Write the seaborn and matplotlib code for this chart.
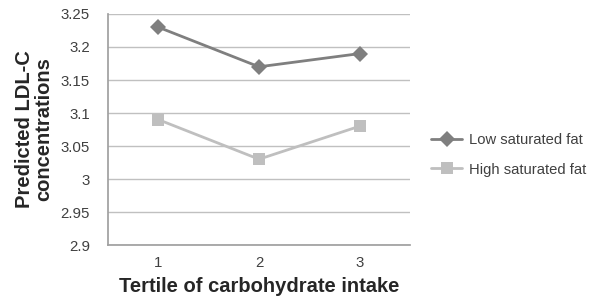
import pandas as pd
import matplotlib.pyplot as plt
import seaborn as sns

# values
tertiles = [1, 2, 3]
low_sat_fat = [3.23, 3.17, 3.19]
high_sat_fat = [3.09, 3.03, 3.08]
series_names = ["Low saturated fat", "High saturated fat"]
y_ticks = [2.9, 2.95, 3.0, 3.05, 3.1, 3.15, 3.2, 3.25]
y_tick_labels = ["2.9", "2.95", "3", "3.05", "3.1", "3.15", "3.2", "3.25"]

df = pd.DataFrame({
    "Tertile": tertiles * 2,
    "LDL": low_sat_fat + high_sat_fat,
    "Group": [series_names[0]] * 3 + [series_names[1]] * 3,
})

sns.set_theme(style="white")
plt.rcParams["font.family"] = ["Liberation Sans", "DejaVu Sans"]

fig = plt.figure(figsize=(6.01, 3.01), dpi=100)
ax = fig.add_axes([0.1797, 0.186, 0.5025, 0.7675])

palette = {series_names[0]: "#7f7f7f", series_names[1]: "#bfbfbf"}
markers = {series_names[0]: "D", series_names[1]: "s"}

sns.lineplot(
    data=df, x="Tertile", y="LDL", hue="Group", style="Group",
    palette=palette, markers=markers, dashes=False,
    linewidth=2, markersize=8, markeredgewidth=0, ax=ax,
)

ax.set_xlim(0.5, 3.5)
ax.set_ylim(2.9, 3.25)
ax.set_yticks(y_ticks)
ax.set_yticklabels(y_tick_labels)
ax.set_xticks(tertiles)
ax.set_xticklabels([str(t) for t in tertiles])
ax.yaxis.grid(True, color="#c0c0c0", linewidth=1)
ax.set_axisbelow(True)

for side in ["top", "right"]:
    ax.spines[side].set_visible(False)
ax.spines["left"].set_color("#a0a0a0")
ax.spines["bottom"].set_color("#a0a0a0")
ax.tick_params(axis="y", length=5, color="#a0a0a0", labelsize=10.8, labelcolor="#404040", pad=8)
ax.tick_params(axis="x", length=0, labelsize=10.8, labelcolor="#404040", pad=8)

ax.set_xlabel("Tertile of carbohydrate intake", fontsize=14.5, fontweight="bold",
              color="#262626", labelpad=5)
ax.set_ylabel("Predicted LDL-C\nconcentrations", fontsize=14.5, fontweight="bold",
              color="#262626", labelpad=5, linespacing=1.05)

ax.legend(loc="center left", bbox_to_anchor=(1.027, 0.39), frameon=False,
          fontsize=10.6, labelspacing=1.05, handlelength=2.1, handletextpad=0.46,
          title=None, labelcolor="#404040")

fig.savefig("out.png", dpi=100)
